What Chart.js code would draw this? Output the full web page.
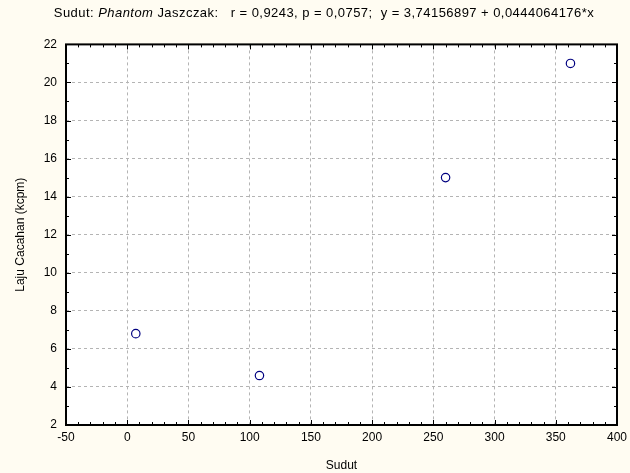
<!DOCTYPE html>
<html>
<head>
<meta charset="utf-8">
<script src="https://cdn.jsdelivr.net/npm/chart.js@4/dist/chart.umd.min.js"></script>
<style>
html,body{margin:0;padding:0;background:#FFFCF2;}
#wrap{width:630px;height:473px;position:relative;}
</style>
</head>
<body>
<div id="wrap"><canvas id="c" width="630" height="473"></canvas></div>
<script>
// Data
const sudut = [7, 108, 260, 362];
const lajuCacahan = [6.8, 4.6, 15.0, 21.0];
const xTicks = [-50, 0, 50, 100, 150, 200, 250, 300, 350, 400];
const yTicks = [2, 4, 6, 8, 10, 12, 14, 16, 18, 20, 22];
const titleParts = [
  {text: 'Sudut: ', italic: false},
  {text: 'Phantom', italic: true},
  {text: ' Jaszczak:   r = 0,9243, p = 0,0757;  y = 3,74156897 + 0,0444064176*x', italic: false}
];
const titleText = titleParts.map(p => p.text).join('');
const xTitle = 'Sudut';
const yTitle = 'Laju Cacahan (kcpm)';

const FONT = '"Liberation Sans", Arial, sans-serif';

const points = sudut.map((x, i) => ({x: x, y: lajuCacahan[i]}));

const framePlugin = {
  id: 'frame',
  beforeDraw(chart) {
    const {ctx, chartArea: a} = chart;
    ctx.save();
    ctx.fillStyle = '#FFFCF2';
    ctx.fillRect(0, 0, chart.width, chart.height);
    ctx.fillStyle = '#FFFFFF';
    ctx.fillRect(a.left, a.top, a.right - a.left, a.bottom - a.top);
    ctx.restore();
  },
  afterDraw(chart) {
    const {ctx, chartArea: a, scales} = chart;
    const xs = scales.x, ys = scales.y;
    ctx.save();
    ctx.strokeStyle = '#000000';
    ctx.lineWidth = 1;
    // inward ticks
    ctx.beginPath();
    for (let v = xTicks[0]; v <= xTicks[xTicks.length - 1]; v += 10) {
      const px = Math.round(xs.getPixelForValue(v)) + 0.5;
      const len = (v % 50 === 0) ? 5 : 3;
      ctx.moveTo(px, a.bottom); ctx.lineTo(px, a.bottom - len);
      ctx.moveTo(px, a.top); ctx.lineTo(px, a.top + len);
    }
    for (let v = yTicks[0]; v <= yTicks[yTicks.length - 1]; v += 1) {
      const py = Math.round(ys.getPixelForValue(v)) + 0.5;
      const len = (v % 2 === 0) ? 5 : 3;
      ctx.moveTo(a.left, py); ctx.lineTo(a.left + len, py);
      ctx.moveTo(a.right, py); ctx.lineTo(a.right - len, py);
    }
    ctx.stroke();
    // frame
    ctx.lineWidth = 2;
    ctx.strokeRect(a.left, a.top, a.right - a.left, a.bottom - a.top);
    // title with italic segment
    const tb = chart.titleBlock;
    const size = 13;
    const sp = 0.45;
    ctx.letterSpacing = sp + 'px';
    let total = 0;
    titleParts.forEach(p => {
      ctx.font = (p.italic ? 'italic ' : '') + size + 'px ' + FONT;
      total += ctx.measureText(p.text).width;
    });
    let x = (chart.width - total) / 2 + 9;
    const y = tb.top + tb.options.padding.top + 7;
    ctx.fillStyle = '#000000';
    ctx.textBaseline = 'middle';
    ctx.textAlign = 'left';
    titleParts.forEach(p => {
      ctx.font = (p.italic ? 'italic ' : '') + size + 'px ' + FONT;
      ctx.fillText(p.text, x, y);
      x += ctx.measureText(p.text).width;
    });
    ctx.restore();
  }
};

new Chart(document.getElementById('c'), {
  type: 'scatter',
  data: {
    datasets: [{
      label: yTitle,
      data: points,
      pointStyle: 'circle',
      pointRadius: 4.2,
      pointBorderColor: '#000080',
      pointBackgroundColor: 'rgba(255,255,255,0)',
      pointBorderWidth: 1.2,
      showLine: false
    }]
  },
  options: {
    responsive: false,
    animation: false,
    events: [],
    layout: {padding: {left: 0, right: 0, top: 0, bottom: 0}},
    plugins: {
      legend: {display: false},
      tooltip: {enabled: false},
      title: {
        display: true,
        text: titleText,
        color: 'rgba(0,0,0,0)',
        font: {family: FONT, size: 12, weight: 'normal'},
        padding: {top: 6, bottom: 24}
      }
    },
    scales: {
      x: {
        type: 'linear',
        min: xTicks[0],
        max: xTicks[xTicks.length - 1],
        afterBuildTicks(s) { s.ticks = xTicks.map(v => ({value: v})); },
        afterFit(s) { s.height = 48; s.paddingRight = 13; s.paddingLeft = 0; },
        ticks: {color: '#000', font: {family: FONT, size: 12}, padding: 5, maxRotation: 0, autoSkip: false},
        grid: {color: '#b4b4b4', lineWidth: 1, drawTicks: false},
        border: {display: false, dash: [3, 3]},
        title: {display: true, text: xTitle, color: '#000', font: {family: FONT, size: 12}, padding: {top: 5, bottom: 0}}
      },
      y: {
        type: 'linear',
        min: yTicks[0],
        max: yTicks[yTicks.length - 1],
        afterBuildTicks(s) { s.ticks = yTicks.map(v => ({value: v})); },
        afterFit(s) { s.width = 66; },
        ticks: {color: '#000', font: {family: FONT, size: 12}, padding: 9, autoSkip: false},
        grid: {color: '#b4b4b4', lineWidth: 1, drawTicks: false},
        border: {display: false, dash: [3, 3]},
        title: {display: true, text: yTitle, color: '#000', font: {family: FONT, size: 12}, padding: {top: 13, bottom: 0}}
      }
    }
  },
  plugins: [framePlugin]
});
</script>
</body>
</html>
